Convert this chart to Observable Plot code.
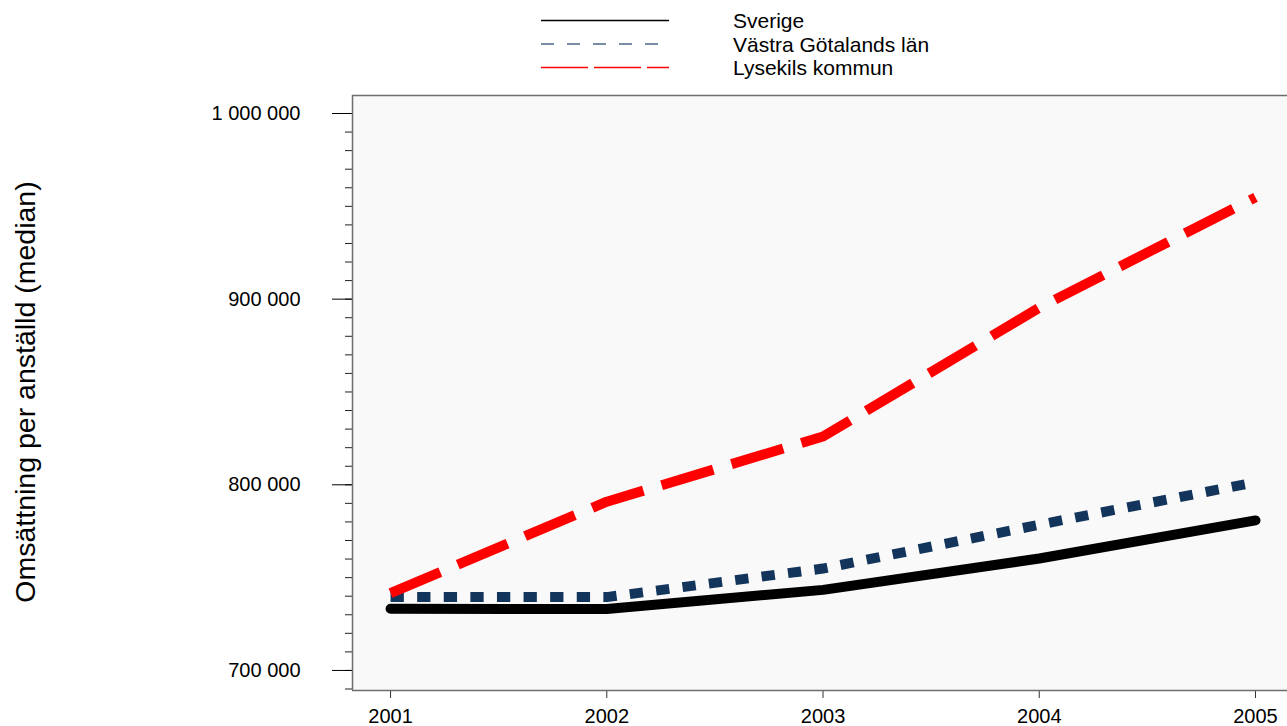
<!DOCTYPE html>
<html>
<head>
<meta charset="utf-8">
<script src="https://cdn.jsdelivr.net/npm/d3@7"></script>
<script src="https://cdn.jsdelivr.net/npm/@observablehq/plot@0.6"></script>
<style>
  html, body { margin: 0; padding: 0; background: #ffffff; }
  body { width: 1287px; height: 726px; overflow: hidden; position: relative;
         font-family: "Liberation Sans", Arial, sans-serif; }
  #legend { position: absolute; left: 0; top: 0; }
  #chart { position: absolute; left: 0; top: 90px; }
  #ytitle { position: absolute; left: 25px; top: 392px; transform: translate(-50%, -50%) rotate(-90deg);
            white-space: nowrap; font-size: 28.5px; color: #000; line-height: 1; }
</style>
</head>
<body>
<div id="legend"></div>
<div id="chart"></div>
<div id="ytitle">Omsättning per anställd (median)</div>
<script>
// ---- data ----
const years = [2001, 2002, 2003, 2004, 2005];
const seriesNames = ["Sverige", "Västra Götalands län", "Lysekils kommun"];
const sverige = [733200, 733100, 743400, 760300, 780800];
const vastraGotaland = [739500, 739500, 754900, 778500, 801400];
const lysekil = [741700, 790900, 826000, 895400, 954800];
const majorTicks = [700000, 800000, 900000, 1000000];
const minorTicks = d3.range(690000, 1000001, 10000);

// ---- styles ----
const seriesColors = ["#000000", "#13355c", "#ff0000"];
const legendColors = ["#000000", "#4d6788", "#ff0000"];
const seriesDash = [null, "13.3,13.3", "54,19"];
const legendDash = [null, "13,13", "47,6"];
const seriesCaps = ["round", "butt", "butt"];

const values = [sverige, vastraGotaland, lysekil];
const data = [];
seriesNames.forEach((s, i) => years.forEach((yr, j) => data.push({series: s, year: yr, value: values[i][j]})));

const fmt = d => d3.format(",")(d).replace(/,/g, " ");
const xDomain = [2000.824, 2005.148];
const yDomain = [689200, 1009700];

// ---- legend ----
const leg = d3.select("#legend").append("svg").attr("width", 1287).attr("height", 90);
const rowY = [20.5, 44, 67.5];
seriesNames.forEach((s, i) => {
  const line = leg.append("line").attr("x1", 541).attr("x2", 669).attr("y1", rowY[i]).attr("y2", rowY[i])
    .attr("stroke", legendColors[i]).attr("stroke-width", 1.3);
  if (legendDash[i]) line.attr("stroke-dasharray", legendDash[i]);
  leg.append("text").attr("x", 733).attr("y", rowY[i] + 7.5).text(s)
    .attr("font-size", 21).attr("font-family", "Liberation Sans, Arial, sans-serif").attr("fill", "#000");
});

// ---- chart ----
const lineMarks = seriesNames.map((s, i) => Plot.line(data.filter(d => d.series === s), {
  x: "year", y: "value", stroke: seriesColors[i], strokeWidth: 10,
  strokeDasharray: seriesDash[i] || undefined, strokeLinecap: seriesCaps[i], strokeLinejoin: "round"
}));

const chart = Plot.plot({
  width: 1287, height: 636,
  marginTop: 5, marginBottom: 36, marginLeft: 352, marginRight: 0,
  style: {fontFamily: "Liberation Sans, Arial, sans-serif", background: "transparent", overflow: "visible"},
  x: {type: "linear", domain: xDomain, label: null},
  y: {domain: yDomain, label: null},
  marks: [
    Plot.frame({fill: "#f9f9f9", stroke: null}),
    Plot.axisY(minorTicks, {tickSize: 7, tickFormat: () => "", stroke: "#222", label: null}),
    Plot.axisY(majorTicks, {tickSize: 20, tickPadding: 32, tickFormat: fmt, fontSize: 20, fill: "#000", stroke: "#000", label: null}),
    Plot.axisX(years, {tickSize: 8, tickPadding: 10, tickFormat: d => String(d), fontSize: 20, fill: "#000", stroke: "#333", label: null}),
    Plot.ruleY([yDomain[1]], {stroke: "#6e6e6e", strokeWidth: 1.5}),
    Plot.ruleY([yDomain[0]], {stroke: "#6e6e6e", strokeWidth: 1.5}),
    Plot.ruleX([xDomain[0]], {stroke: "#6e6e6e", strokeWidth: 1.5}),
    ...lineMarks
  ]
});
document.getElementById("chart").appendChild(chart);
</script>
</body>
</html>
